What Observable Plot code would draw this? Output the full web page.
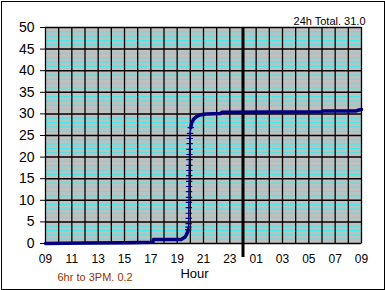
<!DOCTYPE html>
<html><head><meta charset="utf-8">
<script src="https://cdn.jsdelivr.net/npm/d3@7"></script>
<script src="https://cdn.jsdelivr.net/npm/@observablehq/plot@0.6"></script>
<style>
html,body{margin:0;padding:0;background:#fff;}
#wrap{position:relative;width:385px;height:290px;overflow:hidden;}
#border{position:absolute;left:1px;top:1px;width:382px;height:287px;border:1px solid #000;pointer-events:none;}
svg{font-family:"Liberation Sans",Arial,sans-serif;}
</style></head><body>
<div id="wrap"><div id="chart"></div><div id="border"></div></div>
<script>
// hours after 09:00 and cumulative rainfall
const hours = [0, 3, 6, 8.15, 8.2, 10.3, 10.45, 10.6, 10.7, 10.78, 10.84,
  10.86, 10.87, 10.875, 10.88, 10.885, 10.89, 10.895, 10.9, 10.905, 10.91, 10.915, 10.92, 10.925, 10.93, 10.935, 10.94, 10.95, 10.96, 10.98,
  11.03, 11.1, 11.25, 11.5, 11.8, 12.2, 13.3, 13.4, 21.0, 21.1, 23.6, 23.8, 24];
const rain = [0.0, 0.1, 0.2, 0.3, 0.9, 0.9, 1.2, 1.5, 2.0, 2.6, 3.2,
  3.8, 4.6, 5.8, 7.0, 8.3, 9.5, 10.7, 12.0, 13.2, 14.4, 15.7, 16.9, 18.1, 19.4, 20.6, 21.8, 23.1, 24.3, 25.5,
  26.8, 27.9, 28.8, 29.4, 29.8, 30.0, 30.1, 30.4, 30.5, 30.7, 30.7, 30.9, 31.0];
const riseStart = 10.84, riseEnd = 11.03;
const xTickHours = [0, 2, 4, 6, 8, 10, 12, 14, 16, 18, 20, 22, 24];
const xTickLabels = ["09","11","13","15","17","19","21","23","01","03","05","07","09"];
const yTicks = [0, 5, 10, 15, 20, 25, 30, 35, 40, 45, 50];
const minorY = d3.range(0, 51).filter(v => v % 5 !== 0);
const hourGrid = d3.range(0, 25);
const midnight = 15;
const title = "24h Total. 31.0";
const caption = "6hr to 3PM. 0.2";
const xLabel = "Hour";

const data = hours.map((h, i) => ({h, v: rain[i]}));
const before = data.filter(d => d.h <= riseStart);
const rise = data.filter(d => d.h >= riseStart && d.h <= riseEnd);
const after = data.filter(d => d.h >= riseEnd);

const chart = Plot.plot({
  width: 385, height: 290,
  marginLeft: 45, marginRight: 24, marginTop: 27, marginBottom: 47,
  style: {fontFamily: '"Liberation Sans", Arial, sans-serif', background: "transparent", overflow: "visible"},
  x: {domain: [0, 24]},
  y: {domain: [0, 50]},
  marks: [
    Plot.frame({fill: "#c0c0c0", stroke: "#808080"}),
    Plot.ruleY(minorY, {stroke: "#00ffff", strokeWidth: 1, strokeOpacity: 0.7}),
    Plot.ruleX(hourGrid, {stroke: "#000", strokeWidth: 1.3}),
    Plot.ruleY(yTicks, {stroke: "#000", strokeWidth: 1.5}),
    Plot.ruleX([midnight], {stroke: "#000", strokeWidth: 3, insetBottom: -14}),
    Plot.axisY(yTicks, {tickSize: 5, tickPadding: 6, fontSize: 14, label: null, stroke: "#000"}),
    Plot.axisX(xTickHours, {tickSize: 0, tickPadding: 11, fontSize: 12, label: null,
      tickFormat: (d) => xTickLabels[xTickHours.indexOf(d)]}),
    Plot.line(before, {x: "h", y: "v", stroke: "#000080", strokeWidth: 3.5}),
    Plot.line(rise, {x: "h", y: "v", stroke: "#3a5fd0", strokeWidth: 1.2}),
    Plot.dot(rise, {x: "h", y: "v", symbol: "plus", r: 2.2, stroke: "#000080", strokeWidth: 1.2}),
    Plot.line(after, {x: "h", y: "v", stroke: "#000080", strokeWidth: 3.5}),
    Plot.text([title], {frameAnchor: "top-right", dx: 4, dy: -10, fontSize: 11, fill: "#000", textAnchor: "end"}),
    Plot.text([xLabel], {frameAnchor: "bottom", dx: -9, dy: 34, fontSize: 13, fill: "#000"}),
    Plot.text([caption], {frameAnchor: "bottom-left", dx: 12, dy: 37, fontSize: 11, fill: "#993300", textAnchor: "start"})
  ]
});
document.getElementById("chart").appendChild(chart);
</script>
</body></html>
